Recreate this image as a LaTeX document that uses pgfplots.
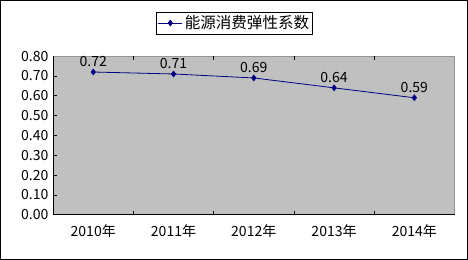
\documentclass[border=0pt]{standalone}
\usepackage{fontspec}
\setmainfont{Noto Sans CJK SC}
\usepackage{pgfplots}
\pgfplotsset{compat=1.18}
\definecolor{navyline}{RGB}{0,0,128}
\definecolor{plotbg}{RGB}{192,192,192}
\definecolor{framegray}{RGB}{150,150,150}
\begin{document}
\fontsize{13.5bp}{16bp}\selectfont
\begin{tikzpicture}[x=1bp,y=1bp]
\begin{axis}[at={(53bp,46bp)}, anchor=south west, scale only axis,
  width=400bp, height=158bp,
  xmin=-0.5, xmax=4.5, ymin=0, ymax=0.8,
  axis background/.style={fill=plotbg},
  axis line style={draw=framegray, line width=0.6bp},
  /pgf/number format/assume math mode=true,
  xtick={0,1,2,3,4},
  xticklabels={2010年,2011年,2012年,2013年,2014年},
  xtick style={draw=none},
  extra x ticks={0.5,1.5,2.5,3.5},
  extra x tick labels={},
  extra x tick style={xtick style={draw=black, line width=0.6bp}, major tick length=4bp, tick align=inside},
  ytick={0,0.1,0.2,0.3,0.4,0.5,0.6,0.7,0.8},
  ytick pos=left,
  tick align=inside,
  major tick length=4bp,
  ytick style={draw=black, line width=0.6bp},
  yticklabel style={/pgf/number format/.cd, fixed, fixed zerofill, precision=2},
  xticklabel style={yshift=-5bp},
  tick label style={font=\fontsize{14bp}{16bp}\selectfont},
  legend style={at={(0.452,1.209)}, anchor=center, draw=black, fill=white,
    font=\fontsize{15.5bp}{18bp}\selectfont, inner sep=1.5bp, line width=0.6bp},
  legend image code/.code={
    \draw[#1] (0bp,0bp) -- (24bp,0bp);
    \draw[#1, only marks] plot coordinates {(12bp,0bp)};
  },
  nodes near coords={\pgfmathprintnumber[fixed,fixed zerofill,precision=2]{\pgfplotspointmeta}},
  nodes near coords style={font=\fontsize{14bp}{16bp}\selectfont, anchor=south, text=black},
  clip=false,
]
\addplot[navyline, line width=0.8bp, mark=diamond*, mark size=2.8bp, mark options={fill=navyline}]
  coordinates {(0,0.72) (1,0.71) (2,0.69) (3,0.64) (4,0.59)};
\addlegendentry{能源消费弹性系数}
\draw[black, line width=0.8bp] (rel axis cs:0,1) -- (rel axis cs:0,0) -- (rel axis cs:1,0);
\end{axis}
\draw[black, line width=0.9bp] (0.5bp,1.5bp) rectangle (466bp,259.5bp);
\end{tikzpicture}
\end{document}
